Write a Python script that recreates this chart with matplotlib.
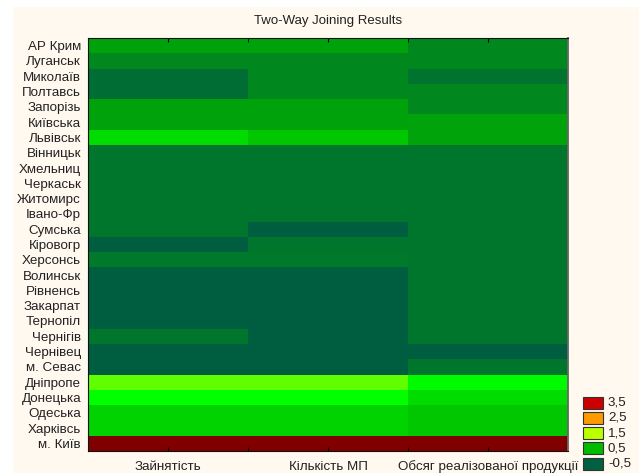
import numpy as np
import matplotlib
matplotlib.use("Agg")
import matplotlib.pyplot as plt
from matplotlib.colors import LinearSegmentedColormap
from matplotlib.patches import Rectangle

plt.rcParams['font.family'] = ['Liberation Sans', 'DejaVu Sans']

regions = ["АР Крим", "Луганськ", "Миколаїв", "Полтавсь", "Запорізь", "Київська",
           "Львівськ", "Вінницьк", "Хмельниц", "Черкаськ", "Житомирс", "Івано-Фр",
           "Сумська", "Кіровогр", "Херсонсь", "Волинськ", "Рівненсь", "Закарпат",
           "Тернопіл", "Чернігів", "Чернівец", "м. Севас", "Дніпропе", "Донецька",
           "Одеська", "Харківсь", "м. Київ"]
variables = ["Зайнятість", "Кількість МП", "Обсяг реалізованої продукції"]

# стандартизовані значення (оцінка з рисунка)
zainiatist = [0.33, 0.02, -0.3, -0.3, 0.33, 0.33, 0.78, -0.2, -0.2, -0.2, -0.2, -0.2,
              -0.2, -0.6, -0.15, -0.6, -0.6, -0.6, -0.6, -0.2, -0.6, -0.6,
              1.25, 1.0, 0.72, 0.72, 4.6]
kilkist_mp = [0.33, 0.02, 0.02, 0.02, 0.33, 0.33, 0.65, -0.2, -0.2, -0.2, -0.2, -0.2,
              -0.6, -0.2, -0.15, -0.6, -0.6, -0.6, -0.6, -0.6, -0.6, -0.6,
              1.25, 1.0, 0.72, 0.72, 4.6]
obsiag = [0.02, 0.02, -0.22, 0.02, 0.02, 0.35, 0.35, -0.2, -0.2, -0.2, -0.2, -0.2,
          -0.2, -0.2, -0.2, -0.2, -0.2, -0.2, -0.2, -0.2, -0.6, -0.2,
          0.98, 0.77, 0.65, 0.65, 4.6]

levels = [3.5, 2.5, 1.5, 0.5, -0.5]
level_labels = ["3,5", "2,5", "1,5", "0,5", "-0,5"]
level_colors = ["#CC0000", "#FF9900", "#BBFF00", "#00BB00", "#006040"]

dani = np.array([zainiatist, kilkist_mp, obsiag]).T

vmin, vmax = -0.5, 3.5
nodes = [(-0.5, "#005E40"), (0.5, "#00B000"), (1.0, "#00FF00"),
         (1.5, "#BBFF00"), (2.5, "#FF9900"), (3.5, "#CC0000")]
cmap = LinearSegmentedColormap.from_list(
    "statistica", [((v - vmin) / (vmax - vmin), c) for v, c in nodes])
cmap.set_under("#005E40")
cmap.set_over("#800000")

fig = plt.figure(figsize=(6.39, 4.73), dpi=100, facecolor="white")
# кремовий фон як у Statistica
fig.add_artist(Rectangle((13 / 639, 0), 1, 1 - 7 / 473, transform=fig.transFigure,
                         facecolor="#FFF9F0", edgecolor="none", zorder=-10))

ax = fig.add_axes([88 / 639, 1 - 451 / 473, 480 / 639, 413 / 473])
ax.pcolormesh(np.arange(len(variables) + 1), np.arange(len(regions) + 1), dani,
              cmap=cmap, vmin=vmin, vmax=vmax)
ax.set_xlim(0, len(variables))
ax.set_ylim(len(regions), 0)

ax.set_xticks(np.arange(len(variables)) + 0.5)
ax.set_xticklabels(variables, fontsize=9.6, color="#222222", va="baseline")
ax.set_xticks(np.arange(1, len(variables)), minor=True)
ax.set_yticks(np.arange(len(regions)) + 0.5)
ax.set_yticklabels(regions, fontsize=9.6, color="#222222")
ax.tick_params(axis="x", which="both", direction="in", length=3, top=True)
ax.tick_params(axis="x", which="major", pad=14)
ax.tick_params(axis="y", which="major", length=0, pad=5)
ax.set_yticks(np.arange(1, len(regions), 2) + 0.5, minor=True)
ax.tick_params(axis="y", which="minor", direction="in", length=3, left=True, right=True)

for s in ["left", "top", "bottom"]:
    ax.spines[s].set_color("#111111")
ax.spines["right"].set_color("#666666")
ax.spines["right"].set_linewidth(1.3)

ax.set_title("Two-Way Joining Results", fontsize=9.5, color="#222222", pad=10)

# легенда рівнів
for i, (lab, col) in enumerate(zip(level_labels, level_colors)):
    yc = 1 - (402.5 + i * 15.3) / 473
    fig.add_artist(Rectangle((583 / 639, yc - 6 / 473), 20 / 639, 12 / 473,
                             transform=fig.transFigure, facecolor=col,
                             edgecolor="#333333", linewidth=0.8))
    fig.text(608 / 639, yc, lab, fontsize=9.6, va="center", ha="left", color="#222222")

fig.savefig("out.png", dpi=100, facecolor=fig.get_facecolor())
